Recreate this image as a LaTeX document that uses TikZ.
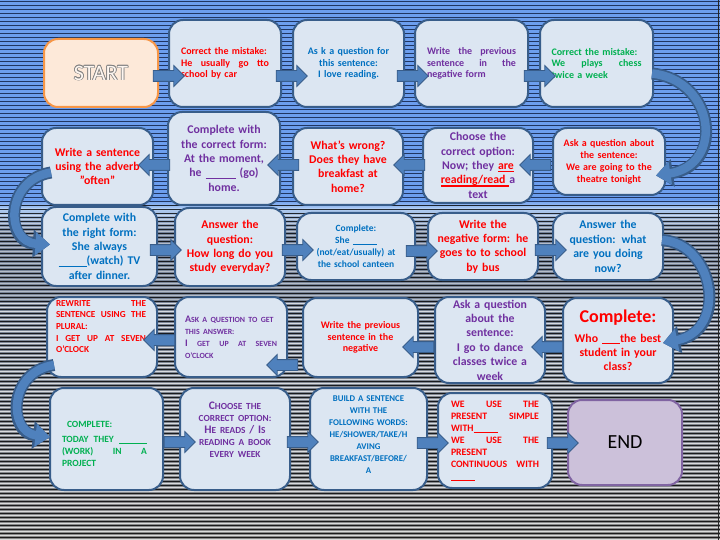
\documentclass[tikz,border=0pt]{standalone}
\usepackage{fontspec}
\setmainfont{Carlito}
\usetikzlibrary{shapes.arrows,arrows.meta,calc}
\definecolor{cRed}{HTML}{FF0000}
\definecolor{cBlue}{HTML}{0070C0}
\definecolor{cPurp}{HTML}{7030A0}
\definecolor{cGreen}{HTML}{00B050}
\definecolor{boxfill}{HTML}{DCE6F2}
\definecolor{boxline}{HTML}{385D8A}
\definecolor{arrfill}{HTML}{4F81BD}
\definecolor{startfill}{HTML}{FDE9D9}
\definecolor{startline}{HTML}{F79646}
\definecolor{endfill}{HTML}{CCC1DA}
\definecolor{endline}{HTML}{8064A2}
\definecolor{bgblue}{HTML}{6C9EEE}
\definecolor{bglight}{HTML}{B0CCF2}
\definecolor{bggrayA}{HTML}{76849C}
\definecolor{bggrayB}{HTML}{8A8A8A}
\definecolor{navy}{HTML}{13244A}
\newcommand\J[1]{\leavevmode\hbox to \hsize{\spaceskip=0.25em plus 3em\relax #1}}
\newcommand\blank[1]{\rule[-1.3pt]{#1}{0.7pt}}
\newsavebox\rubox
\newcommand\ru[1]{\leavevmode\sbox\rubox{#1}\rlap{\color{cRed}\rule[-2.6pt]{\wd\rubox}{1.6pt}}\usebox\rubox}
\newcommand\SCa[1]{{\fontsize{7.9}{12}\selectfont #1}}
\newcommand\SCb[1]{{\fontsize{9.3}{12}\selectfont #1}}
\newcommand\outl[1]{\leavevmode
 \rlap{\color{gray}\hspace*{0.7pt}#1}\rlap{\color{gray}\hspace*{-0.7pt}#1}%
 \rlap{\color{gray}\raisebox{0.7pt}{#1}}\rlap{\color{gray}\raisebox{-0.7pt}{#1}}%
 \rlap{\color{gray}\hspace*{0.5pt}\raisebox{0.5pt}{#1}}\rlap{\color{gray}\hspace*{-0.5pt}\raisebox{-0.5pt}{#1}}%
 \rlap{\color{gray}\hspace*{0.5pt}\raisebox{-0.5pt}{#1}}\rlap{\color{gray}\hspace*{-0.5pt}\raisebox{0.5pt}{#1}}%
 {\color{startfill!40!white}#1}}
\tikzset{
 box/.style={draw=boxline, line width=2pt, fill=boxfill, rounded corners=14pt, inner sep=0pt},
 startbox/.style={draw=startline, line width=2pt, fill=startfill, rounded corners=14pt, inner sep=0pt},
 endbox/.style={draw=endline, line width=2pt, fill=endfill, rounded corners=14pt, inner sep=0pt},
 tx/.style={inner sep=0pt},
 fa/.style={font=\bfseries\fontsize{10}{11.7}\selectfont},
 fb/.style={font=\bfseries\fontsize{11.8}{14.4}\selectfont},
 fc/.style={font=\bfseries\fontsize{10}{12}\selectfont},
 fd/.style={font=\bfseries\fontsize{9.5}{12}\selectfont},
 rarr/.style={single arrow, draw=boxline, fill=arrfill, line width=0.8pt, minimum height=31pt,
   text height=5pt, text depth=5pt, text width=0pt, inner xsep=0pt, inner ysep=0pt,
   single arrow head extend=5pt, single arrow head indent=0pt},
 larr/.style={rarr, shape border rotate=180},
 cout/.style={draw=boxline, line width=12pt, -{Triangle[length=17pt,width=27pt]}},
 cin/.style={draw=arrfill, line width=8.5pt, -{Triangle[length=14.5pt,width=22pt]}},
}
\begin{document}
\begin{tikzpicture}[x=1pt,y=-1pt]
\useasboundingbox (0,0) rectangle (720,540);
% background
\fill[bgblue] (0,0) rectangle (720,200);
\shade[top color=bgblue, bottom color=bglight] (0,200) rectangle (720,209);
\shade[top color=bglight, bottom color=bggrayA] (0,209) rectangle (720,232);
\shade[top color=bggrayA, bottom color=bggrayB] (0,232) rectangle (720,540);
\foreach \k in {0,...,50} {\draw[navy, opacity=0.85, line width=1.5pt] (0,4*\k+1.5) -- (720,4*\k+1.5);}
\foreach \k in {51,...,134} {\draw[black, opacity=0.8, line width=1.3pt] (0,4*\k+1.5) -- (720,4*\k+1.5);}
\foreach \k in {53,...,74} {\draw[white, opacity=0.45, line width=0.9pt] (0,4*\k+3.5) -- (720,4*\k+3.5);}
\foreach \k in {75,...,134} {\draw[white, opacity=0.7, line width=0.9pt] (0,4*\k+3.5) -- (720,4*\k+3.5);}
\draw[black!85, line width=1.5pt] (718.5,0) -- (718.5,540);

% Row 1
\node[startbox, minimum width=114pt, minimum height=68pt] (start) at (101,73) {\fontsize{22}{24}\selectfont\outl{START}};
\node[box, minimum width=112pt, minimum height=87pt, text width=88pt, align=left, fa, text=cRed] (b1) at (225,63.5)
 {Correct the mistake:\\ \J{He usually go tto}\\ school by car};
\node[box, minimum width=111pt, minimum height=87pt, text width=100pt, align=center, fa, text=cBlue] (b2) at (348.5,63.5)
 {As k a question for\\ this sentence:\\ I love reading.};
\node[box, minimum width=113pt, minimum height=87pt, text width=89pt, align=left, fa, text=cPurp] (b3) at (471.5,63.5)
 {\J{Write the previous}\\ \J{sentence in the}\\ negative form};
\node[box, minimum width=113pt, minimum height=87pt, text width=90pt, align=left, fa, text=cGreen] (b4) at (596.5,63.5)
 {Correct the mistake:\\ \J{We plays chess}\\ twice a week};

% Row 2
\node[box, minimum width=111pt, minimum height=77pt, text width=104pt, align=center, fb, text=cRed] (often) at (97.5,166.5)
 {Write a sentence\\ using the adverb\\ "often"};
\node[box, minimum width=112pt, minimum height=93pt, text width=104pt, align=center, fb, text=cPurp] (cf) at (224,158.5)
 {Complete with\\ the correct form:\\ At the moment,\\ he \blank{30pt} (go)\\ home.};
\node[box, minimum width=110pt, minimum height=77pt, text width=104pt, align=center, fb, text=cRed] (wrong) at (348,166.5)
 {What’s wrong?\\ Does they have\\ breakfast at\\ home?};
\node[box, minimum width=110pt, minimum height=75pt, text width=104pt, align=center, fb, text=cPurp] (choose) at (478,165.5)
 {Choose the\\ correct option:\\ Now; they \ru{\textcolor{cRed}{are}}\\ \ru{\textcolor{cRed}{reading/read} }a\\ text};
\node[box, minimum width=112pt, minimum height=67pt, text width=104pt, align=center, fc, text=cRed] (askab) at (609,161.5)
 {Ask a question about\\ the sentence:\\ We are going to the\\ theatre tonight};

% Row 3
\node[box, minimum width=115pt, minimum height=79pt, text width=106pt, align=center, fb, text=cBlue] (right) at (99.5,246.5)
 {Complete with\\ the right form:\\ She always\\ \blank{28pt}(watch) TV\\ after dinner.};
\node[box, minimum width=110pt, minimum height=78pt, text width=104pt, align=center, fb, text=cRed] (answer) at (230,247)
 {Answer the\\ question:\\ How long do you\\ study everyday?};
\node[box, minimum width=118pt, minimum height=67pt, text width=110pt, align=center, fd, text=cBlue] (she) at (356,246.5)
 {Complete:\\ She \blank{24pt}\\ (not/eat/usually) at\\ the school canteen};
\node[box, minimum width=110pt, minimum height=67pt, text width=104pt, align=center, fb, text=cRed] (neg) at (483,246.5)
 {Write the\\ negative form: he\\ goes to to school\\ by bus};
\node[box, minimum width=110pt, minimum height=67pt, text width=104pt, align=center, fb, text=cBlue] (now) at (608,246.5)
 {Answer the\\ question: what\\ are you doing\\ now?};

% Row 4
\node[box, minimum width=110pt, minimum height=80pt] (plural) at (102,337) {};
\node[tx, text width=90pt, align=left, text=cRed, font=\bfseries\fontsize{9.2}{11.7}\selectfont] (tplural) at (101,326.5)
 {\J{REWRITE THE}\\ \J{SENTENCE USING THE}\\ PLURAL:\\ \J{I GET UP AT SEVEN}\\ O’CLOCK};
\node[box, minimum width=112pt, minimum height=80pt, text width=92pt, align=left, text=cPurp, font=\bfseries\fontsize{10}{12}\selectfont] (askans) at (231,337)
 {A\SCa{SK A QUESTION TO GET}\\ \SCa{THIS ANSWER:}\\ \J{I \SCa{GET UP AT SEVEN}}\\ \SCa{O’CLOCK}};
\node[box, minimum width=115pt, minimum height=79pt, text width=106pt, align=center, text=cRed, font=\bfseries\fontsize{10}{11.5}\selectfont] (prevneg) at (360.5,337.5)
 {Write the previous\\ sentence in the\\ negative};
\node[box, minimum width=110pt, minimum height=86pt, text width=104pt, align=center, fb, text=cPurp] (dance) at (490,340)
 {Ask a question\\ about the\\ sentence:\\ I go to dance\\ classes twice a\\ week};
\node[box, minimum width=110pt, minimum height=85pt, text width=104pt, align=center, fb, text=cRed] (complete) at (618,340.5)
 {{\fontsize{18}{20}\selectfont Complete:}\\[5pt] Who \blank{18pt}the best\\ student in your\\ class?};

% Row 5
\node[box, minimum width=113pt, minimum height=102pt] (today) at (106.5,439) {};
\node[tx, text width=85pt, align=left, text=cGreen, font=\bfseries\fontsize{9.5}{12}\selectfont] (ttoday) at (104.5,443.5)
 {\hspace*{5pt}COMPLETE:\\[3pt] \J{TODAY THEY \blank{28pt}}\\ \J{(WORK) IN A}\\ PROJECT};
\node[box, minimum width=110pt, minimum height=102pt] (choose2) at (235,439) {};
\node[tx, text width=104pt, align=center, text=cPurp, font=\bfseries\fontsize{11.5}{12}\selectfont] (tchoose2) at (235,429.5)
 {C\SCb{HOOSE THE}\\ \SCb{CORRECT OPTION:}\\ H\SCb{E READS} / I\SCb{S}\\ \SCb{READING A BOOK}\\ \SCb{EVERY WEEK}};
\node[box, minimum width=117pt, minimum height=102pt] (build) at (368.5,439) {};
\node[tx, text width=112pt, align=center, text=cBlue, font=\bfseries\fontsize{8.8}{12}\selectfont] (tbuild) at (368.5,435)
 {BUILD A SENTENCE\\ WITH THE\\ FOLLOWING WORDS:\\ HE/SHOWER/TAKE/H\\ AVING\\ BREAKFAST/BEFORE/\\ A};
\node[box, minimum width=114pt, minimum height=95pt, text width=88pt, align=left, text=cRed, font=\bfseries\fontsize{9.8}{12}\selectfont] (weuse) at (495,440.5)
 {\J{WE USE THE}\\ \J{PRESENT SIMPLE}\\ WITH\blank{24pt}\\ \J{WE USE THE}\\ PRESENT\\ \J{CONTINUOUS WITH}\\ \blank{24pt}};
\node[endbox, minimum width=114pt, minimum height=85pt, font=\fontsize{20}{22}\selectfont] (end) at (625,442.5) {END};

% straight block arrows
\node[rarr] (a1) at (166,76) {};
\node[rarr] (a2) at (289,76) {};
\node[rarr] (a3) at (410,76) {};
\node[rarr] (a4) at (537,76) {};
\node[larr] (a5) at (538,165) {};
\node[larr] (a6) at (412,165) {};
\node[larr] (a7) at (286,165) {};
\node[larr] (a8) at (157,165) {};
\node[rarr] (a9) at (163,250) {};
\node[rarr] (a10) at (295,250) {};
\node[rarr] (a11) at (419,251) {};
\node[rarr] (a12) at (548,250) {};
\node[larr] (a13) at (550,347) {};
\node[larr] (a14) at (421,347) {};
\node[larr] (a15) at (285,365) {};
\node[larr] (a16) at (162,340) {};
\node[rarr] (a17) at (177,442) {};
\node[rarr] (a18) at (300,442) {};
\node[rarr] (a19) at (430,443) {};
\node[rarr] (a20) at (560,443) {};

% curved arrows
\coordinate (c1s) at ($(b4.east)+(-2,10)$);
\coordinate (c1e) at ($(askab.east)+(-10,14)$);
\coordinate (c2s) at ($(now.east)+(-2,-6.5)$);
\coordinate (c2e) at ($(complete.east)+(-11,2.5)$);
\coordinate (c3s) at ($(often.west)+(10,6)$);
\coordinate (c3e) at ($(right.west)+(9,-2)$);
\coordinate (c4s) at ($(plural.west)+(8,28)$);
\coordinate (c4e) at ($(today.west)+(1,-2)$);
\draw[cout] (c1s) .. controls (715,80) and (725,165) .. (c1e);
\draw[cin] (c1s) .. controls (715,80) and (725,165) .. (c1e);
\draw[cout] (c2s) .. controls (715,244) and (728,330) .. (c2e);
\draw[cin] (c2s) .. controls (715,244) and (728,330) .. (c2e);
\draw[cout] (c3s) .. controls (5,180) and (5,242) .. (c3e);
\draw[cin] (c3s) .. controls (5,180) and (5,242) .. (c3e);
\draw[cout] (c4s) .. controls (8,372) and (8,432) .. (c4e);
\draw[cin] (c4s) .. controls (8,372) and (8,432) .. (c4e);
\end{tikzpicture}
\end{document}
